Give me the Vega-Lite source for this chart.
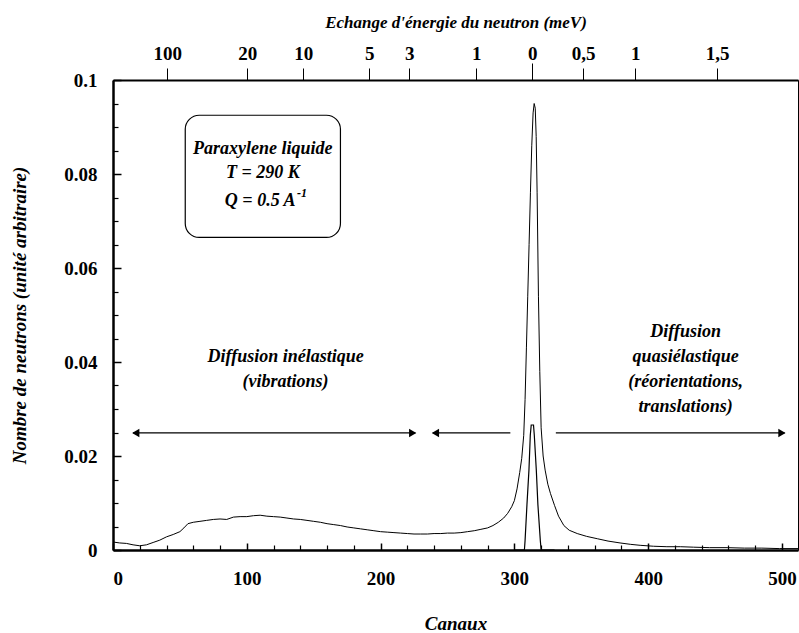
{
 "$schema": "https://vega.github.io/schema/vega-lite/v6.json",
 "width": 685, "height": 470,
 "autosize": {"type": "none"},
 "padding": {"left": 113, "top": 80, "right": 1, "bottom": 83},
 "background": "white",
 "config": {
  "view": {"stroke": "black", "strokeWidth": 1},
  "font": "Liberation Serif",
  "axis": {"labelFont": "Liberation Serif", "labelFontWeight": "bold", "labelFontSize": 19, "labelColor": "black",
           "titleFont": "Liberation Serif", "titleFontStyle": "italic", "titleFontWeight": "bold", "titleFontSize": 19, "titleColor": "black",
           "domainColor": "black", "tickColor": "black", "grid": false}
 },
 "datasets": {
  "sample": [
   {"c":0,"v":0.0017},{"c":5,"v":0.0015},{"c":10,"v":0.0014},{"c":15,"v":0.0011},{"c":20,"v":0.0009},{"c":25,"v":0.0011},
   {"c":30,"v":0.0016},{"c":35,"v":0.0021},{"c":40,"v":0.0028},{"c":45,"v":0.0033},{"c":50,"v":0.0039},{"c":53,"v":0.0047},
   {"c":56,"v":0.0056},{"c":60,"v":0.0059},{"c":65,"v":0.0061},{"c":70,"v":0.0063},{"c":75,"v":0.0065},{"c":80,"v":0.0066},
   {"c":85,"v":0.0065},{"c":90,"v":0.0070},{"c":95,"v":0.0071},{"c":100,"v":0.0071},{"c":105,"v":0.0073},{"c":110,"v":0.0074},
   {"c":115,"v":0.0072},{"c":120,"v":0.0071},{"c":125,"v":0.0070},{"c":130,"v":0.0068},{"c":135,"v":0.0066},{"c":140,"v":0.0065},
   {"c":145,"v":0.0063},{"c":150,"v":0.0061},{"c":155,"v":0.0059},{"c":160,"v":0.0056},{"c":165,"v":0.0054},{"c":170,"v":0.0052},
   {"c":175,"v":0.0049},{"c":180,"v":0.0047},{"c":185,"v":0.0045},{"c":190,"v":0.0043},{"c":195,"v":0.0041},{"c":200,"v":0.0039},
   {"c":205,"v":0.0038},{"c":210,"v":0.0037},{"c":215,"v":0.0036},{"c":220,"v":0.0035},{"c":225,"v":0.0034},{"c":230,"v":0.0034},
   {"c":235,"v":0.0034},{"c":240,"v":0.0035},{"c":245,"v":0.0035},{"c":250,"v":0.0036},{"c":255,"v":0.0036},{"c":260,"v":0.0037},
   {"c":265,"v":0.0039},{"c":270,"v":0.0041},{"c":275,"v":0.0044},{"c":280,"v":0.0047},{"c":284,"v":0.0052},{"c":288,"v":0.0059},
   {"c":292,"v":0.0068},{"c":295,"v":0.0078},{"c":298,"v":0.0092},{"c":300,"v":0.0105},{"c":302,"v":0.0130},{"c":304,"v":0.0165},
   {"c":305.5,"v":0.0195},{"c":307,"v":0.0244},{"c":308,"v":0.032},{"c":309,"v":0.043},{"c":310,"v":0.054},{"c":311,"v":0.065},
   {"c":312,"v":0.076},{"c":313,"v":0.086},{"c":314,"v":0.093},{"c":314.8,"v":0.095},{"c":315.6,"v":0.094},{"c":316.3,"v":0.088},
   {"c":317,"v":0.076},{"c":318,"v":0.054},{"c":319,"v":0.038},{"c":320,"v":0.026},{"c":321.5,"v":0.020},{"c":323,"v":0.017},
   {"c":325,"v":0.0140},{"c":327,"v":0.0120},{"c":330,"v":0.0095},{"c":333,"v":0.0072},{"c":337,"v":0.0052},{"c":341,"v":0.0042},
   {"c":347,"v":0.0035},{"c":354,"v":0.0029},{"c":362,"v":0.0024},{"c":370,"v":0.0019},{"c":379,"v":0.0015},{"c":387,"v":0.0012},
   {"c":394,"v":0.0010},{"c":404,"v":0.0008},{"c":414,"v":0.0007},{"c":424,"v":0.0007},{"c":434,"v":0.0006},{"c":446,"v":0.0005},
   {"c":459,"v":0.0005},{"c":472,"v":0.0004},{"c":485,"v":0.0004},{"c":498,"v":0.0003},{"c":512,"v":0.0003}
  ],
  "resolution": [
   {"c":300,"v":0},{"c":307.5,"v":0},{"c":308,"v":0.002},{"c":309.4,"v":0.0096},{"c":310.9,"v":0.017},{"c":311.9,"v":0.0244},
   {"c":312.6,"v":0.0266},{"c":314.3,"v":0.0266},{"c":314.9,"v":0.0244},{"c":316.4,"v":0.017},{"c":317.6,"v":0.0096},
   {"c":319.4,"v":0.002},{"c":320,"v":0},{"c":330,"v":0}
  ],
  "labels": [
   {"c":112,"v":0.0853,"t":"Paraxylene liquide"},
   {"c":112,"v":0.0803,"t":"T = 290 K"},
   {"c":110,"v":0.0742,"t":"Q = 0.5 A"},
   {"c":129,"v":0.0410,"t":"Diffusion inélastique"},
   {"c":129,"v":0.0357,"t":"(vibrations)"},
   {"c":428,"v":0.0464,"t":"Diffusion"},
   {"c":428,"v":0.0410,"t":"quasiélastique"},
   {"c":428,"v":0.0357,"t":"(réorientations,"},
   {"c":428,"v":0.0304,"t":"translations)"}
  ],
  "sup": [{"c":137.5,"v":0.0760,"t":"-1"}],
  "box": [{"c1":54,"c2":170,"v1":0.0925,"v2":0.0665}],
  "arrows": [{"c1":15,"c2":226,"v":0.0249},{"c1":239,"c2":297,"v":0.0249},{"c1":331,"c2":502,"v":0.0249}],
  "heads": [{"c":17,"v":0.0249,"d":"l"},{"c":224,"v":0.0249,"d":"r"},{"c":241,"v":0.0249,"d":"l"},{"c":500,"v":0.0249,"d":"r"}],
  "zerotick": [{"c":313.3}]
 },
 "resolve": {"axis": {"x": "independent", "y": "independent"}},
 "layer": [
  {
   "data": {"name": "sample"},
   "mark": {"type": "line", "color": "black", "strokeWidth": 1, "clip": true},
   "encoding": {
    "x": {"field": "c", "type": "quantitative", "scale": {"domain": [0, 512], "nice": false, "zero": false},
          "axis": {"orient": "bottom", "values": [0,100,200,300,400,500], "format": "d", "tickSize": -7, "tickWidth": 1.5,
                   "domainWidth": 2.5, "labelPadding": 26, "title": "Canaux", "titlePadding": 26}},
    "y": {"field": "v", "type": "quantitative", "scale": {"domain": [0, 0.1], "nice": false},
          "axis": {"orient": "left", "values": [0,0.02,0.04,0.06,0.08,0.1], "format": "~g", "tickSize": -8, "tickWidth": 1.5,
                   "domainWidth": 2.5, "labelPadding": 24, "title": "Nombre de neutrons (unité arbitraire)", "titlePadding": 34}}
   }
  },
  {
   "data": {"name": "resolution"},
   "mark": {"type": "line", "color": "black", "strokeWidth": 1.2},
   "encoding": {
    "x": {"field": "c", "type": "quantitative",
          "axis": {"orient": "bottom", "values": [20,40,60,80,120,140,160,180,220,240,260,280,320,340,360,380,420,440,460,480], "labels": false, "domain": false, "tickSize": -5, "tickWidth": 1.2, "title": null}},
    "y": {"field": "v", "type": "quantitative",
          "axis": {"orient": "left", "values": [0.005,0.01,0.015,0.025,0.03,0.035,0.045,0.05,0.055,0.065,0.07,0.075,0.085,0.09,0.095], "labels": false, "domain": false, "tickSize": -5, "tickWidth": 1.2, "title": null}}
   }
  },
  {
   "data": {"name": "box"},
   "mark": {"type": "rect", "fill": null, "fillOpacity": 0, "stroke": "black", "strokeWidth": 1.2, "cornerRadius": 14},
   "encoding": {
    "x": {"field": "c1", "type": "quantitative",
          "axis": {"orient": "top", "values": [40.6,100.4,142.2,191.6,221.4,271.5,313.3,351.4,390.3,451.6],
                   "labelExpr": "datum.value < 60 ? '100' : datum.value < 120 ? '20' : datum.value < 160 ? '10' : datum.value < 200 ? '5' : datum.value < 240 ? '3' : datum.value < 290 ? '1' : datum.value < 330 ? '0' : datum.value < 370 ? '0,5' : datum.value < 420 ? '1' : '1,5'",
                   "tickSize": 12, "tickWidth": 1, "domainWidth": 2, "labelPadding": 5, "title": "Echange d'énergie du neutron (meV)", "titleFontSize": 17, "titlePadding": 13}},
    "x2": {"field": "c2"},
    "y": {"field": "v1", "type": "quantitative", "axis": null},
    "y2": {"field": "v2"}
   }
  },
  {
   "data": {"name": "zerotick"},
   "mark": {"type": "tick", "opacity": 0},
   "encoding": {
    "x": {"field": "c", "type": "quantitative",
          "axis": {"orient": "top", "values": [313.3], "labels": false, "domain": false, "tickSize": 17, "tickWidth": 1, "title": null}}
   }
  },
  {
   "data": {"name": "labels"},
   "mark": {"type": "text", "font": "Liberation Serif", "fontStyle": "italic", "fontWeight": "bold", "fontSize": 18, "align": "center", "baseline": "middle", "color": "black"},
   "encoding": {
    "x": {"field": "c", "type": "quantitative", "axis": null},
    "y": {"field": "v", "type": "quantitative", "axis": null},
    "text": {"field": "t"}
   }
  },
  {
   "data": {"name": "sup"},
   "mark": {"type": "text", "font": "Liberation Serif", "fontStyle": "italic", "fontWeight": "bold", "fontSize": 12, "align": "left", "baseline": "middle", "color": "black"},
   "encoding": {
    "x": {"field": "c", "type": "quantitative", "axis": null},
    "y": {"field": "v", "type": "quantitative", "axis": null},
    "text": {"field": "t"}
   }
  },
  {
   "data": {"name": "arrows"},
   "mark": {"type": "rule", "color": "black", "strokeWidth": 1.2},
   "encoding": {
    "x": {"field": "c1", "type": "quantitative", "axis": null},
    "x2": {"field": "c2"},
    "y": {"field": "v", "type": "quantitative", "axis": null}
   }
  },
  {
   "data": {"name": "heads"},
   "mark": {"type": "point", "filled": true, "color": "black", "opacity": 1, "size": 70},
   "encoding": {
    "x": {"field": "c", "type": "quantitative", "axis": null},
    "y": {"field": "v", "type": "quantitative", "axis": null},
    "shape": {"field": "d", "type": "nominal", "scale": {"domain": ["l", "r"], "range": ["triangle-left", "triangle-right"]}, "legend": null}
   }
  }
 ]
}
